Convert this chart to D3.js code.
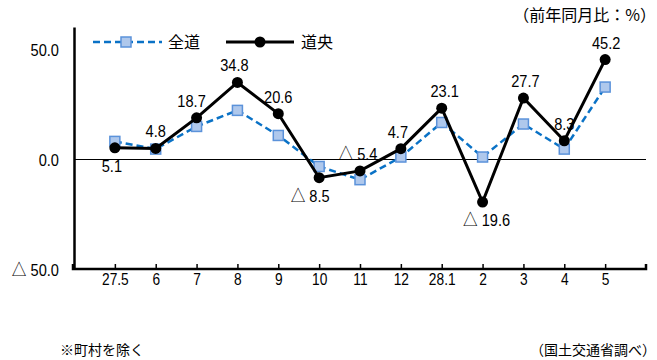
<!DOCTYPE html>
<html>
<head>
<meta charset="utf-8">
<script src="https://cdn.jsdelivr.net/npm/d3@7"></script>
<style>
  html, body { margin: 0; padding: 0; background: #fff; }
  svg { display: block; }
  .num { font-family: "Liberation Sans", Arial, sans-serif; }
  .jp { font-family: "Noto Sans CJK JP", sans-serif; }
  .tri { font-family: "Noto Sans CJK JP", sans-serif; }
</style>
</head>
<body>
<div id="chart"></div>
<script>
// Months (平成27年5月 〜 28年5月)
const categories = ["27.5", "6", "7", "8", "9", "10", "11", "12", "28.1", "2", "3", "4", "5"];
// 全道 前年同月比 (%)
const zendoValues = [8.0, 4.5, 14.8, 22.1, 10.7, -3.4, -9.4, 0.9, 16.6, 0.9, 15.9, 4.5, 32.7];
// 道央 前年同月比 (%)
const dooValues = [5.1, 4.8, 18.7, 34.8, 20.6, -8.5, -5.4, 4.7, 23.1, -19.6, 27.7, 8.3, 45.2];
// y axis ticks
const yTicks = [50, 0, -50];

// where each 道央 value label sits relative to its point
const labelPlacement = {
  "27.5": ["below", -3], "6": ["above", 0], "7": ["above", -5], "8": ["above", -3],
  "9": ["above", 0], "10": ["below", -9], "11": ["above", -2], "12": ["above", -3],
  "28.1": ["above", 3], "2": ["below", 4], "3": ["above", 2], "4": ["above", 0], "5": ["above", 1]
};

const W = 657, H = 360;
const NARROW = 0.86; // horizontal squeeze for the numeric labels
const svg = d3.select("#chart").append("svg").attr("width", W).attr("height", H);

const x = d3.scalePoint().domain(categories).range([74, 646]).padding(1);
const y = d3.scaleLinear().domain([-50, 60]).range([269, 27]);

const num = d3.format(".1f");
const fmt = v => v < 0 ? "△ " + num(-v) : num(v);

// write a value as text, negatives prefixed with a △ mark
function writeValue(sel) {
  sel.each(function (v) {
    const t = d3.select(this).text(null);
    if (v < 0) {
      t.append("tspan").attr("class", "tri").attr("font-size", "1em").text("△");
      t.append("tspan").text("\u00a0" + num(-v));
    } else {
      t.text(num(v));
    }
  });
}

// squeeze a text element horizontally around its own anchor point
function narrow(sel) {
  sel.each(function () {
    const t = d3.select(this);
    const tx = +t.attr("x") || 0, ty = +t.attr("y") || 0;
    t.attr("x", 0).attr("y", 0)
      .attr("transform", `translate(${tx},${ty}) scale(${NARROW},1)`);
  });
}

// zero line
const y0 = Math.round(y(0)) + 0.5;
svg.append("line")
  .attr("x1", 74).attr("x2", 646)
  .attr("y1", y0).attr("y2", y0)
  .attr("stroke", "#000").attr("stroke-width", 1);

// y axis
const yAxis = svg.append("g").attr("transform", "translate(74,0)")
  .call(d3.axisLeft(y).tickValues(yTicks).tickSize(0).tickPadding(15).tickFormat(fmt));
yAxis.select(".domain").attr("stroke", "#000").attr("stroke-width", 2.5);
yAxis.selectAll(".tick text").attr("class", "num").attr("font-size", 17).attr("fill", "#000")
  .attr("dy", "0.36em").call(writeValue).call(narrow);

// x axis
const xAxis = svg.append("g").attr("transform", `translate(0,${y(-50)})`)
  .call(d3.axisBottom(x).tickSizeInner(5).tickSizeOuter(0).tickPadding(0));
xAxis.select(".domain").attr("stroke", "#000").attr("stroke-width", 2.5)
  .attr("d", `M73,-5V0H646V-5`);
xAxis.selectAll(".tick line").attr("y1", 0).attr("y2", -5).attr("stroke-width", 1.5);
xAxis.selectAll(".tick text").attr("class", "num").attr("font-size", 16).attr("fill", "#000")
  .attr("y", 16).attr("dy", 0).call(narrow);

// 全道 line
svg.append("path")
  .datum(zendoValues)
  .attr("fill", "none").attr("stroke", "#0A72C6").attr("stroke-width", 2.5)
  .attr("stroke-dasharray", "7,4")
  .attr("d", d3.line().x((d, i) => x(categories[i])).y(d => y(d)));

svg.selectAll("rect.zendo").data(zendoValues).join("rect")
  .attr("class", "zendo")
  .attr("x", (d, i) => x(categories[i]) - 5).attr("y", d => y(d) - 5)
  .attr("width", 10).attr("height", 10)
  .attr("fill", "#AFC8EC").attr("stroke", "#5B92DA").attr("stroke-width", 1.5);

// 道央 line
svg.append("path")
  .datum(dooValues)
  .attr("fill", "none").attr("stroke", "#000").attr("stroke-width", 3)
  .attr("d", d3.line().x((d, i) => x(categories[i])).y(d => y(d)));

svg.selectAll("circle.doo").data(dooValues).join("circle")
  .attr("class", "doo")
  .attr("cx", (d, i) => x(categories[i])).attr("cy", d => y(d))
  .attr("r", 5.5).attr("fill", "#000");

// 道央 value labels
svg.selectAll("text.val").data(dooValues).join("text")
  .attr("class", "val num")
  .attr("font-size", 17).attr("text-anchor", "middle").attr("fill", "#000")
  .attr("x", (d, i) => x(categories[i]) + labelPlacement[categories[i]][1])
  .attr("y", (d, i) => y(d) + (labelPlacement[categories[i]][0] === "above" ? -11 : 24))
  .call(writeValue)
  .call(narrow);

// legend
const lg = svg.append("g");
lg.append("line").attr("x1", 93).attr("x2", 162).attr("y1", 42).attr("y2", 42)
  .attr("stroke", "#0A72C6").attr("stroke-width", 2.5).attr("stroke-dasharray", "7,4");
lg.append("rect").attr("x", 121).attr("y", 37).attr("width", 10).attr("height", 10)
  .attr("fill", "#AFC8EC").attr("stroke", "#5B92DA").attr("stroke-width", 1.5);
lg.append("text").attr("class", "jp").attr("x", 168).attr("y", 48).attr("font-size", 16).text("全道");
lg.append("line").attr("x1", 226).attr("x2", 294).attr("y1", 42).attr("y2", 42)
  .attr("stroke", "#000").attr("stroke-width", 3);
lg.append("circle").attr("cx", 260).attr("cy", 42).attr("r", 5.5).attr("fill", "#000");
lg.append("text").attr("class", "jp").attr("x", 301).attr("y", 48).attr("font-size", 16).text("道央");

// unit note and footnotes
svg.append("text").attr("class", "jp").attr("x", 656).attr("y", 21)
  .attr("text-anchor", "end").attr("font-size", 16).text("（前年同月比：%）");
svg.append("text").attr("class", "jp").attr("x", 60).attr("y", 355)
  .attr("font-size", 14).text("※町村を除く");
svg.append("text").attr("class", "jp").attr("x", 656).attr("y", 355)
  .attr("text-anchor", "end").attr("font-size", 14).text("（国土交通省調べ）");
</script>
</body>
</html>
